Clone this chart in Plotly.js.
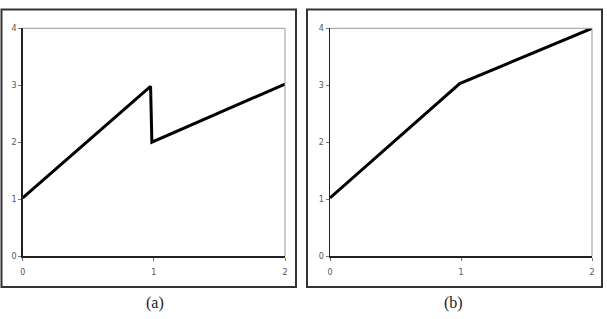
<!DOCTYPE html>
<html>
<head>
<meta charset="utf-8">
<script src="https://cdn.plot.ly/plotly-3.0.1.min.js"></script>
<style>html,body{margin:0;padding:0;background:#fff;}#chart{width:607px;height:319px;}</style>
</head>
<body>
<div id="chart"></div>
<script>
// Panel (a)
const xA = [0, 0.975, 0.985, 2];
const yA = [1.02, 2.98, 2.0, 3.02];
// Panel (b)
const xB = [0, 0.99, 2];
const yB = [1.02, 3.03, 4.0];
const xTicks = [0, 1, 2];
const yTicks = [0, 1, 2, 3, 4];
const captions = ['(a)', '(b)'];

const W = 607, H = 319;
const px = v => v / W;
const py = v => 1 - v / H;

const lineStyle = {color: '#000', width: 3};
const traces = [
  {x: xA, y: yA, xaxis: 'x', yaxis: 'y', mode: 'lines', line: lineStyle, cliponaxis: false, hoverinfo: 'skip'},
  {x: xB, y: yB, xaxis: 'x2', yaxis: 'y2', mode: 'lines', line: lineStyle, cliponaxis: false, hoverinfo: 'skip'}
];

const tickFont = {family: 'DejaVu Sans, Verdana, sans-serif', size: 8, color: '#555'};
function xax(domain, anchor) {
  return {domain: domain, anchor: anchor, range: [0, 2], tickvals: xTicks, ticktext: xTicks.map(String),
    showgrid: false, zeroline: false, showline: true, linecolor: '#222', linewidth: 1.5,
    ticks: 'outside', ticklen: 3, tickcolor: '#777', tickwidth: 1, tickfont: tickFont,
    ticklabelstandoff: 5, fixedrange: true};
}
function yax(domain, anchor) {
  return {domain: domain, anchor: anchor, range: [0, 4], tickvals: yTicks, ticktext: yTicks.map(String),
    showgrid: false, zeroline: false, showline: true, linecolor: '#222', linewidth: 1.5,
    ticks: 'outside', ticklen: 3, tickcolor: '#777', tickwidth: 1, tickfont: tickFont, fixedrange: true};
}

const yDom = [py(256), py(28.3)];
const capFont = {family: '"Liberation Serif", "DejaVu Serif", serif', size: 16, color: '#222'};
const layout = {
  width: W, height: H, margin: {l: 0, r: 0, t: 0, b: 0},
  paper_bgcolor: '#fff', plot_bgcolor: '#fff', showlegend: false,
  xaxis: xax([px(22.7), px(285)], 'y'),
  yaxis: yax(yDom, 'x'),
  xaxis2: xax([px(330), px(592)], 'y2'),
  yaxis2: yax(yDom, 'x2'),
  shapes: [
    // outer frames
    {type: 'rect', xref: 'paper', yref: 'paper', x0: px(1.5), x1: px(296), y0: py(287), y1: py(9.5), line: {color: '#333', width: 2}},
    {type: 'rect', xref: 'paper', yref: 'paper', x0: px(307), x1: px(602), y0: py(287), y1: py(9.5), line: {color: '#333', width: 2}},
    // top/right borders of plot areas (light gray)
    {type: 'line', xref: 'x domain', yref: 'y domain', x0: 0, x1: 1, y0: 1, y1: 1, line: {color: '#999', width: 1}},
    {type: 'line', xref: 'x domain', yref: 'y domain', x0: 1, x1: 1, y0: 0, y1: 1, line: {color: '#999', width: 1}},
    {type: 'line', xref: 'x2 domain', yref: 'y2 domain', x0: 0, x1: 1, y0: 1, y1: 1, line: {color: '#999', width: 1}},
    {type: 'line', xref: 'x2 domain', yref: 'y2 domain', x0: 1, x1: 1, y0: 0, y1: 1, line: {color: '#999', width: 1}}
  ],
  annotations: [
    {xref: 'paper', yref: 'paper', x: px(155), y: py(303), xanchor: 'center', yanchor: 'middle',
      text: captions[0], showarrow: false, font: capFont},
    {xref: 'paper', yref: 'paper', x: px(453), y: py(303), xanchor: 'center', yanchor: 'middle',
      text: captions[1], showarrow: false, font: capFont}
  ]
};

Plotly.newPlot('chart', traces, layout, {staticPlot: true, displayModeBar: false});
</script>
</body>
</html>
